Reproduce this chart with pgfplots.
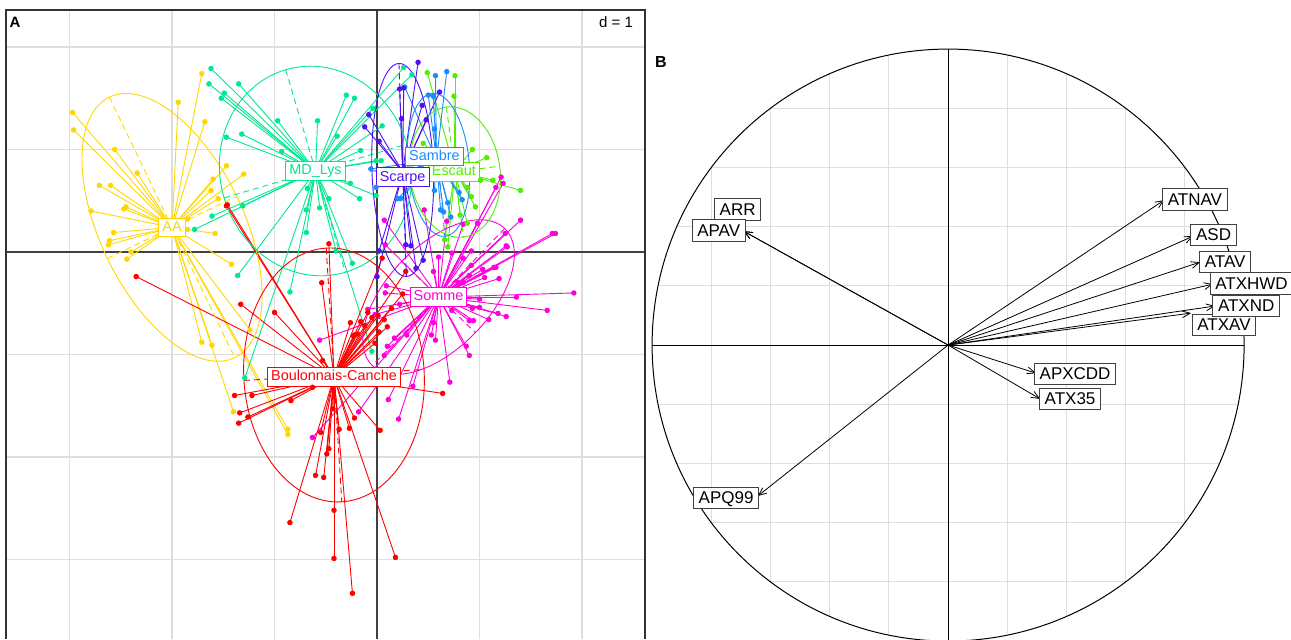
\documentclass[border=0pt]{standalone}
\usepackage{pgfplots}
\pgfplotsset{compat=1.18}
\usepackage{pgfplotstable}
\usepackage{fontspec}
\setmainfont{Liberation Sans}
\usetikzlibrary{arrows.meta,shapes.geometric}

% group colours (rainbow palette)
\definecolor{cAA}{HTML}{FFD700}
\definecolor{cMD}{HTML}{00E890}
\definecolor{cScarpe}{HTML}{5010F0}
\definecolor{cSambre}{HTML}{1A8CFF}
\definecolor{cEscaut}{HTML}{50EE00}
\definecolor{cSomme}{HTML}{FF00DB}
\definecolor{cBC}{HTML}{FF0000}
\definecolor{gridc}{HTML}{DEDEDE}
\definecolor{axc}{HTML}{404040}

% one plot unit (d = 1) in pt, panel A
\def\du{51.25pt}

% class ellipse with its dashed principal axes: colour, cx, cy, a, b, angle
\newcommand{\classell}[6]{%
  \node[draw=#1, line width=0.45pt, ellipse, inner sep=0pt, outer sep=0pt,
        minimum width={2*#4*\du}, minimum height={2*#5*\du}, rotate=#6]
        at (axis cs:#2,#3) {};
  \draw[#1, line width=0.45pt, dash pattern=on 3pt off 2pt]
    (axis cs:#2,#3) ++(#6:{#4*\du}) -- ++({#6+180}:{2*#4*\du});
  \draw[#1, line width=0.45pt, dash pattern=on 3pt off 2pt]
    (axis cs:#2,#3) ++({#6+90}:{#5*\du}) -- ++({#6+270}:{2*#5*\du});
}

\pgfplotstableread{
x y
-1.71 1.74
-1.94 1.46
-2.97 1.36
-2.96 1.19
-1.68 1.27
-2.56 1.00
-2.34 0.77
-2.71 0.65
-2.60 0.65
-2.45 0.44
-2.47 0.42
-2.79 0.40
-2.57 0.19
-2.61 0.11
-2.62 0.07
-2.40 0.00
-1.47 0.84
-1.30 0.76
-1.60 0.71
-1.62 0.60
-1.55 0.52
-1.85 0.32
-1.85 0.22
-1.58 0.18
-2.44 -0.07
-1.42 -0.12
-1.24 -0.76
-1.71 -0.88
-1.61 -0.91
-1.40 -1.56
-0.87 -1.73
-0.87 -1.78
}\tabAA

\pgfplotstableread{
x y
-1.62 1.79
-1.64 1.64
-1.35 1.64
-1.49 1.55
-1.52 1.50
-0.30 1.53
-0.22 1.50
-0.97 1.28
-0.58 1.28
-1.47 1.12
-1.32 1.15
-0.39 1.13
-0.93 0.98
-0.16 0.99
0.05 1.23
-0.04 1.40
-0.01 0.89
0.04 0.89
-0.26 0.67
-0.68 0.62
-0.47 0.52
-0.56 0.43
-0.17 0.52
-0.69 0.41
-0.69 0.19
-1.31 0.45
-1.61 0.35
-1.78 0.22
-0.01 0.55
-0.40 0.01
-1.36 -0.23
-0.85 -0.39
-0.24 -0.11
-1.29 -1.23
-0.05 -0.97
0.26 1.80
0.34 1.73
}\tabMD

\pgfplotstableread{
x y
0.40 1.85
0.22 1.59
0.26 1.60
0.61 1.56
0.44 1.43
0.48 1.29
0.24 1.30
-0.08 1.34
-0.12 1.22
0.02 1.08
0.02 0.01
0.28 0.07
0.33 0.06
0.45 -0.08
0.38 -0.16
0.00 -0.24
}\tabScarpe

\pgfplotstableread{
x y
0.68 1.76
0.57 1.72
0.27 1.61
0.50 1.53
0.55 1.52
0.56 1.20
0.80 0.58
0.62 0.41
0.65 0.39
0.69 0.48
0.72 0.34
0.56 0.60
0.83 0.51
0.23 0.52
-0.01 0.63
-0.06 0.81
0.20 0.52
}\tabSambre

\pgfplotstableread{
x y
0.49 1.75
0.76 1.72
0.75 1.52
0.93 1.00
1.07 0.92
1.01 0.70
1.13 0.70
1.40 0.60
0.88 0.63
0.92 0.54
0.96 0.44
0.88 0.28
0.69 0.05
0.45 1.06
0.66 0.12
0.81 0.36
}\tabEscaut

\pgfplotstableread{
x y
0.08 0.07
0.60 -0.05
0.73 -0.01
0.92 0.01
1.25 0.18
1.26 0.06
1.71 0.18
0.84 -0.06
0.55 -0.19
0.92 -0.13
1.03 -0.17
1.14 -0.15
0.90 -0.23
1.05 -0.25
1.19 -0.26
0.84 -0.30
0.79 -0.30
0.09 -0.33
0.08 -0.40
1.00 -0.46
1.36 -0.44
1.92 -0.40
1.66 -0.57
0.93 -0.55
1.00 -0.54
1.18 -0.60
1.26 -0.63
1.09 -0.66
0.90 -0.67
0.94 -0.67
0.73 -0.57
-0.09 -0.56
0.22 -0.51
-0.02 -0.61
0.53 -0.81
0.57 -0.86
0.55 -0.69
0.29 -0.81
0.10 -0.92
0.07 -1.01
0.17 -0.84
0.87 -0.92
0.90 -1.01
0.71 -1.27
0.35 -1.31
0.11 -1.44
-0.18 -1.56
0.21 -1.63
-0.56 -0.86
-0.63 -1.81
1.21 0.73
1.23 0.67
1.16 0.63
1.40 0.31
1.74 0.18
1.27 0.05
1.16 -0.15
0.46 0.41
0.07 0.31
0.68 0.30
0.84 0.27
0.98 0.28
}\tabSomme

\pgfplotstableread{
x y
-1.47 0.45
-1.46 0.46
-2.35 -0.24
-1.33 -0.51
-1.00 -0.59
-1.39 -1.40
-1.22 -1.40
-1.34 -1.57
-1.26 -1.61
-1.35 -1.67
-0.84 -1.45
-0.47 0.08
-0.54 -0.30
0.05 -0.06
0.28 -0.19
0.25 -0.41
-0.26 -0.69
-0.16 -0.68
-0.19 -0.80
-0.23 -0.82
-0.12 -0.72
-0.05 -0.64
0.01 -0.62
0.10 -0.73
0.02 -0.78
-0.02 -0.89
-0.53 -1.06
0.64 -1.38
-0.63 -1.32
-0.43 -1.53
-0.55 -1.76
-0.60 -2.18
-0.52 -2.20
-0.49 -1.97
-0.47 -1.92
-0.37 -1.73
-0.27 -1.72
-0.22 -1.62
0.03 -1.74
-0.42 -2.52
-0.85 -2.64
-0.42 -2.99
0.18 -2.98
-0.24 -3.33
-0.22 -0.81
-0.09 -0.59
0.07 -0.66
0.14 -0.55
}\tabBC

% star: segments from every site to its class centroid
\newcommand{\classstar}[4]{%
  \addplot[#1, line width=0.45pt, quiver={u={#2-(\thisrow{x})}, v={#3-(\thisrow{y})}}] table {#4};
}
\newcommand{\classdots}[2]{%
  \addplot[#1, only marks, mark=*, mark size=1.15pt] table {#2};
}

\tikzset{
  clab/.style={draw=#1, text=#1, fill=white, line width=0.5pt,
    font=\fontsize{7.2}{8}\selectfont, inner xsep=1.8pt, inner ysep=1.2pt,
    text height=5.4pt, text depth=1.5pt},
  vlab/.style={draw=black!75, text=black, fill=white, line width=0.5pt,
    font=\fontsize{8.5}{9}\selectfont, inner xsep=2.6pt, inner ysep=1.9pt,
    text height=6.3pt, text depth=0.5pt},
  garrow/.style={black, line width=0.4pt, -{Straight Barb[length=4pt,width=3.4pt]}},
  gridB/.style={gridc, line width=0.5pt}
}

\begin{document}
\begin{tikzpicture}
\useasboundingbox (0,0) rectangle (645.5pt,319.5pt);

% ---------- panel A: classes of sites on the first factorial plane ----------
\begin{axis}[
  at={(3pt,0pt)}, anchor=south west,
  x=51.25pt, y=51.25pt,
  xmin=-3.62, xmax=2.615, ymin=-3.776, ymax=2.361,
  axis line style={draw=none}, tick style={draw=none},
  xtick={-3,...,2}, ytick={-3,...,2},
  xticklabels={}, yticklabels={},
  grid=major, grid style={gridc, line width=0.6pt},
  clip=true,
]
\draw[axc, line width=0.6pt] (axis cs:0,-3.776) -- (axis cs:0,2.361);
\draw[axc, line width=0.6pt] (axis cs:-3.62,0) -- (axis cs:2.615,0);

\classstar{cAA}{-2.00}{0.24}{\tabAA}
\classstar{cMD}{-0.60}{0.79}{\tabMD}
\classstar{cSomme}{0.60}{-0.44}{\tabSomme}
\classstar{cBC}{-0.42}{-1.22}{\tabBC}
\classstar{cEscaut}{0.76}{0.79}{\tabEscaut}
\classstar{cSambre}{0.58}{0.90}{\tabSambre}
\classstar{cScarpe}{0.25}{0.78}{\tabScarpe}

\classell{cAA}{-2.00}{0.24}{1.41}{0.70}{115.7}
\classell{cMD}{-0.60}{0.79}{1.03}{0.93}{106.4}
\classell{cSomme}{0.60}{-0.44}{0.93}{0.50}{46}
\classell{cBC}{-0.42}{-1.20}{1.24}{0.88}{93.5}
\classell{cEscaut}{0.76}{0.78}{0.64}{0.44}{97.5}
\classell{cSambre}{0.60}{0.85}{0.70}{0.30}{95}
\classell{cScarpe}{0.25}{0.80}{1.04}{0.30}{92}

\classdots{cAA}{\tabAA}
\classdots{cMD}{\tabMD}
\classdots{cSomme}{\tabSomme}
\classdots{cBC}{\tabBC}
\classdots{cEscaut}{\tabEscaut}
\classdots{cSambre}{\tabSambre}
\classdots{cScarpe}{\tabScarpe}

\node[clab=cAA] at (axis cs:-2.00,0.24) {AA};
\node[clab=cMD] at (axis cs:-0.60,0.79) {MD\_Lys};
\node[clab=cSomme] at (axis cs:0.60,-0.44) {Somme};
\node[clab=cBC] at (axis cs:-0.42,-1.22) {Boulonnais-Canche};
\node[clab=cEscaut] at (axis cs:0.75,0.78) {Escaut};
\node[clab=cSambre] at (axis cs:0.56,0.93) {Sambre};
\node[clab=cScarpe] at (axis cs:0.25,0.73) {Scarpe};
\end{axis}
\draw[black!80, line width=0.7pt] (3pt,0pt) -- (3pt,314.5pt) -- (322.5pt,314.5pt) -- (322.5pt,0pt);
\node[text=black, font=\fontsize{7.5}{8}\selectfont\bfseries] at (7.5pt,308.5pt) {A};
\node[text=black, font=\fontsize{7.5}{8}\selectfont, anchor=east] at (320pt,308.5pt) {d = 1};

% ---------- panel B: correlation circle of the variables ----------
\begin{axis}[
  at={(322.5pt,0pt)}, anchor=south west,
  x=148pt, y=148pt,
  xmin=-1.024, xmax=1.159, ymin=-0.993, ymax=1.166,
  hide axis, clip=true,
]
% grid inside the unit circle
\draw[gridB] (axis cs:-0.2,-0.9798) -- (axis cs:-0.2,0.9798);
\draw[gridB] (axis cs:0.2,-0.9798) -- (axis cs:0.2,0.9798);
\draw[gridB] (axis cs:-0.4,-0.9165) -- (axis cs:-0.4,0.9165);
\draw[gridB] (axis cs:0.4,-0.9165) -- (axis cs:0.4,0.9165);
\draw[gridB] (axis cs:-0.6,-0.8) -- (axis cs:-0.6,0.8);
\draw[gridB] (axis cs:0.6,-0.8) -- (axis cs:0.6,0.8);
\draw[gridB] (axis cs:-0.8,-0.6) -- (axis cs:-0.8,0.6);
\draw[gridB] (axis cs:0.8,-0.6) -- (axis cs:0.8,0.6);
\draw[gridB] (axis cs:-0.9798,-0.2) -- (axis cs:0.9798,-0.2);
\draw[gridB] (axis cs:-0.9798,0.2) -- (axis cs:0.9798,0.2);
\draw[gridB] (axis cs:-0.9165,-0.4) -- (axis cs:0.9165,-0.4);
\draw[gridB] (axis cs:-0.9165,0.4) -- (axis cs:0.9165,0.4);
\draw[gridB] (axis cs:-0.8,-0.6) -- (axis cs:0.8,-0.6);
\draw[gridB] (axis cs:-0.8,0.6) -- (axis cs:0.8,0.6);
\draw[gridB] (axis cs:-0.6,-0.8) -- (axis cs:0.6,-0.8);
\draw[gridB] (axis cs:-0.6,0.8) -- (axis cs:0.6,0.8);

\draw[black, line width=0.5pt] (axis cs:-1,0) -- (axis cs:1,0);
\draw[black, line width=0.5pt] (axis cs:0,-1) -- (axis cs:0,1);
\draw[black, line width=0.5pt] (axis cs:0,0) circle [radius=148pt];

% ARR and APAV point the same way; ARR lies under APAV
\addplot[garrow] coordinates {(0,0) (-0.691,0.385)};
\addplot[garrow] coordinates {(0,0) (-0.691,0.385)};
\addplot[garrow] coordinates {(0,0) (0.730,0.490)};
\addplot[garrow] coordinates {(0,0) (0.828,0.368)};
\addplot[garrow] coordinates {(0,0) (0.851,0.280)};
\addplot[garrow] coordinates {(0,0) (0.895,0.206)};
\addplot[garrow] coordinates {(0,0) (0.902,0.132)};
\addplot[garrow] coordinates {(0,0) (0.821,0.108)};
\addplot[garrow] coordinates {(0,0) (0.297,-0.095)};
\addplot[garrow] coordinates {(0,0) (0.311,-0.182)};
\addplot[garrow] coordinates {(0,0) (-0.643,-0.510)};

\node[vlab] at (axis cs:-0.711,0.458) {ARR};
\node[vlab] at (axis cs:-0.775,0.387) {APAV};
\node[vlab] at (axis cs:0.834,0.492) {ATNAV};
\node[vlab] at (axis cs:0.897,0.372) {ASD};
\node[vlab] at (axis cs:0.936,0.282) {ATAV};
\node[vlab] at (axis cs:1.025,0.208) {ATXHWD};
\node[vlab] at (axis cs:0.932,0.069) {ATXAV};
\node[vlab] at (axis cs:1.007,0.132) {ATXND};
\node[vlab] at (axis cs:0.429,-0.098) {APXCDD};
\node[vlab] at (axis cs:0.412,-0.182) {ATX35};
\node[vlab] at (axis cs:-0.750,-0.517) {APQ99};

\node[text=black, font=\fontsize{8}{9}\selectfont\bfseries] at (axis cs:-0.970,0.956) {B};
\end{axis}
\end{tikzpicture}
\end{document}
